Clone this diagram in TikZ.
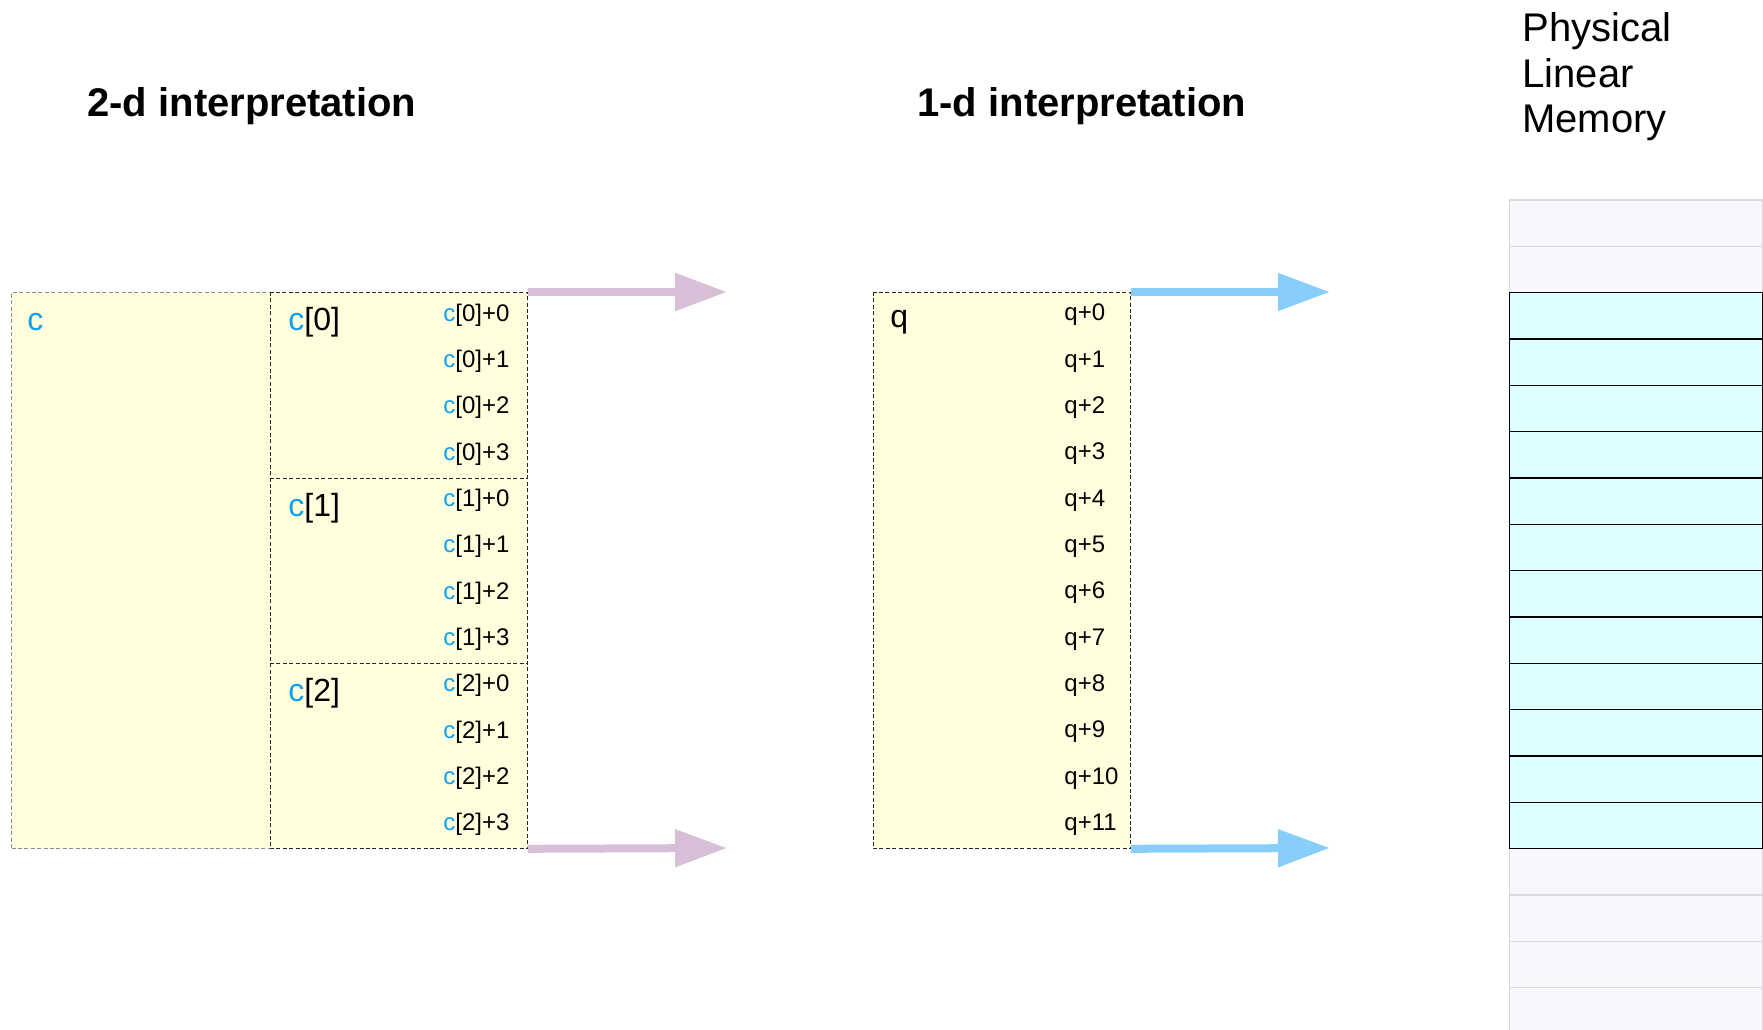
\documentclass[tikz,border=0pt]{standalone}
\usepackage{fontspec}
\setmainfont{Liberation Sans}
\usetikzlibrary{arrows.meta}
\definecolor{boxyellow}{RGB}{255,255,221}
\definecolor{cblue}{RGB}{20,160,240}
\definecolor{arrowpink}{RGB}{216,191,216}
\definecolor{arrowblue}{RGB}{135,206,250}
\definecolor{memcyan}{RGB}{221,255,255}
\definecolor{memgray}{RGB}{247,248,252}
\definecolor{memline}{RGB}{218,218,222}
\newcommand{\cb}[1]{\textcolor{cblue}{#1}}
\tikzset{
  title/.style={anchor=west, inner sep=0pt, font=\fontsize{20}{22.5}\selectfont\bfseries},
  memtitle/.style={anchor=west, inner sep=0pt, align=left, font=\fontsize{20}{22.75}\selectfont},
  biglabel/.style={anchor=west, inner sep=0pt, font=\fontsize{16}{19}\selectfont},
  smalllabel/.style={anchor=west, inner sep=0pt, font=\fontsize{12}{14}\selectfont},
  outerbox/.style={draw=black!45, fill=boxyellow, dash pattern=on 2pt off 1.2pt, line width=0.5pt, inner sep=0pt, anchor=north west},
  rowbox/.style={fill=boxyellow, inner sep=0pt, anchor=north west},
  rowline/.style={draw=black!85, dash pattern=on 2pt off 1.2pt, line width=0.5pt},
  bigarrow/.style={line width=4pt, -{Triangle[length=26pt,width=18pt]}},
  memcell/.style={draw=black, fill=memcyan, line width=0.7pt, inner sep=0pt, anchor=north west, minimum width=126.5pt, minimum height=23.17pt},
  freecell/.style={draw=memline, fill=memgray, line width=0.7pt, inner sep=0pt, anchor=north west, minimum width=126.5pt, minimum height=23.17pt}
}
\begin{document}
\begin{tikzpicture}[x=0.5pt,y=0.5pt,yscale=-1,xscale=1]
\useasboundingbox (0,0) rectangle (1763,1029);

% Titles
\node[title] (title2d) at (87,106.5) {2-d interpretation};
\node[title] (title1d) at (917,106.5) {1-d interpretation};
\node[memtitle] (titlemem) at (1522,77) {Physical\\Linear\\Memory};

% 2-d boxes
\node[outerbox, minimum width=129.5pt, minimum height=278pt] (cbox) at (11,292) {};
\foreach \r in {0,1,2}
  \node[rowbox, minimum width=128.5pt, minimum height=92.67pt] (crow\r) at (270,{292+185.33*\r}) {};
\draw[rowline] (crow0.north west) rectangle (crow2.south east);
\draw[rowline] (crow0.south west) -- (crow0.south east);
\draw[rowline] (crow1.south west) -- (crow1.south east);
\node[biglabel] (clabel) at (27,322.5) {\cb{c}};
\foreach \r in {0,1,2}
  \node[biglabel] (crowlabel\r) at (288,{322.5+185.33*\r}) {\cb{c}[\r]};
\foreach \r in {0,1,2}
  \foreach \k in {0,...,3}
    \node[smalllabel] (c\r-\k) at (443,{315+46.33*(4*\r+\k)}) {\cb{c}[\r]+\k};

% 1-d box
\node[rowbox, minimum width=128.5pt, minimum height=278pt] (qbox) at (873,292) {};
\draw[rowline] (qbox.north west) rectangle (qbox.south east);
\node[biglabel] (qlabel) at (890,322.5) {q};
\foreach \k in {0,...,11}
  \node[smalllabel] (q\k) at (1064,{315+46.33*\k}) {q+\k};

% arrows
\coordinate (ctop) at (727,292);
\coordinate (cbot) at (727,848);
\coordinate (qtop) at (1330,292);
\coordinate (qbot) at (1330,848);
\draw[bigarrow, arrowpink] (crow0.north east) -- (ctop);
\draw[bigarrow, arrowpink] (crow2.south east) -- (cbot);
\draw[bigarrow, arrowblue] (qbox.north east) -- (qtop);
\draw[bigarrow, arrowblue] (qbox.south east) -- (qbot);

% memory
\foreach \i in {-2,-1,12,13,14,15}
  \node[freecell] (mem\i) at (1509,{292+46.33*\i}) {};
\foreach \i in {0,...,11}
  \node[memcell] (mem\i) at (1509,{292+46.33*\i}) {};
\end{tikzpicture}
\end{document}
